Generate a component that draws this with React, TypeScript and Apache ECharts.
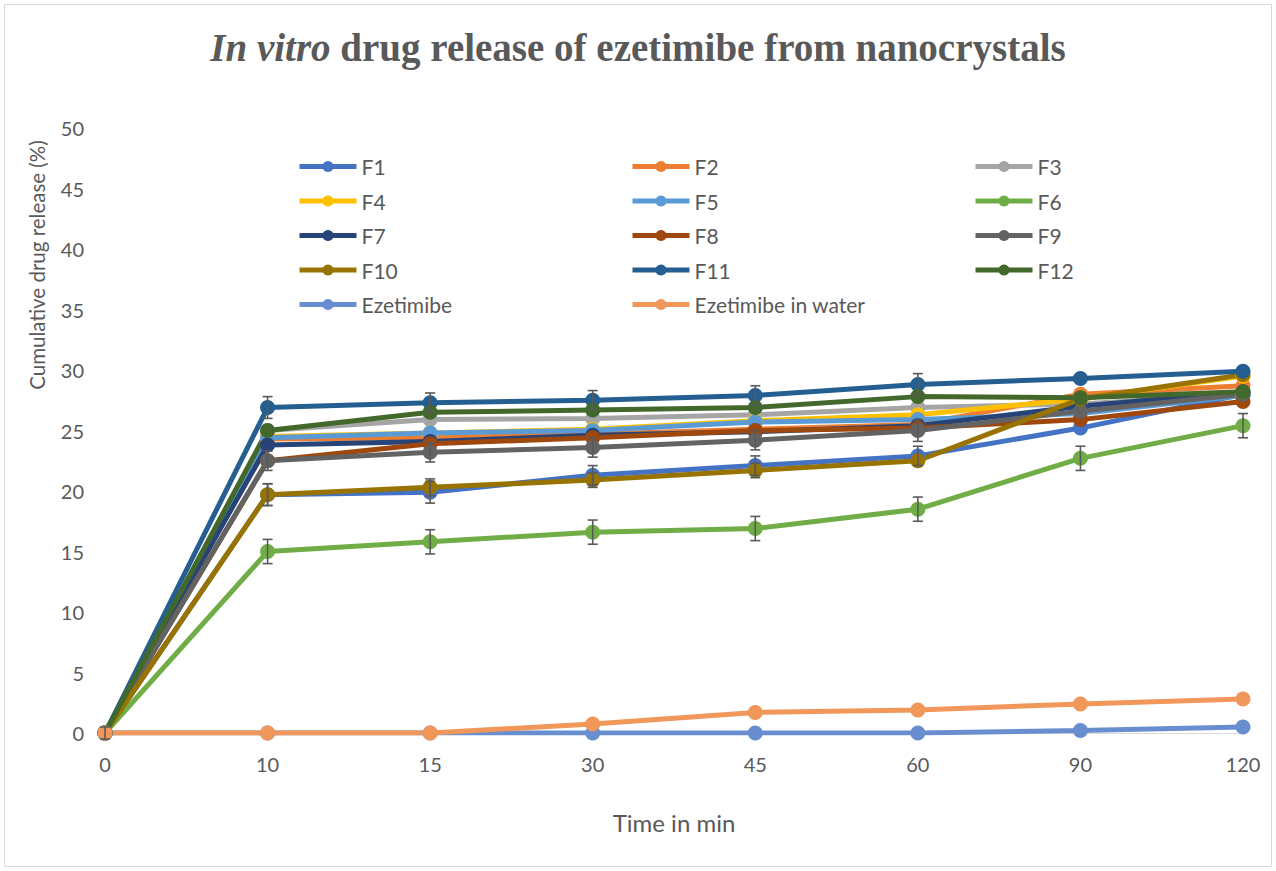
import React, { useEffect, useRef } from "react";
import * as echarts from "echarts";

const timeLabels = ["0", "10", "15", "30", "45", "60", "90", "120"];

const seriesNames = [
  "F1", "F2", "F3", "F4", "F5", "F6", "F7", "F8", "F9", "F10", "F11", "F12",
  "Ezetimibe", "Ezetimibe in water",
];

const seriesColors = [
  "#4472C4", "#ED7D31", "#A5A5A5", "#FFC000", "#5B9BD5", "#70AD47",
  "#264478", "#9E480E", "#636363", "#997300", "#255E91", "#43682B",
  "#698ED0", "#F1975A",
];

const F1 = [0, 19.7, 19.9, 21.3, 22.1, 22.9, 25.2, 28.0];
const F2 = [0, 24.3, 24.4, 24.7, 25.1, 25.5, 28.0, 28.7];
const F3 = [0, 25.0, 25.9, 26.0, 26.3, 26.9, 27.2, 28.0];
const F4 = [0, 24.5, 24.8, 25.1, 25.8, 26.3, 27.6, 29.5];
const F5 = [0, 24.4, 24.8, 25.0, 25.7, 25.9, 26.4, 27.9];
const F6 = [0, 15.0, 15.8, 16.6, 16.9, 18.5, 22.7, 25.4];
const F7 = [0, 23.8, 24.1, 24.6, 24.9, 25.4, 27.0, 28.2];
const F8 = [0, 22.5, 23.9, 24.4, 25.0, 25.2, 25.9, 27.4];
const F9 = [0, 22.5, 23.2, 23.6, 24.2, 25.0, 26.6, 28.0];
const F10 = [0, 19.7, 20.3, 20.9, 21.7, 22.5, 27.6, 29.6];
const F11 = [0, 26.9, 27.3, 27.5, 27.9, 28.8, 29.3, 29.9];
const F12 = [0, 25.0, 26.5, 26.7, 26.9, 27.8, 27.7, 28.2];
const Ezetimibe = [0, 0, 0, 0, 0, 0, 0.2, 0.5];
const EzetimibeWater = [0, 0, 0, 0.75, 1.7, 1.9, 2.4, 2.8];

const seriesValues = [F1, F2, F3, F4, F5, F6, F7, F8, F9, F10, F11, F12, Ezetimibe, EzetimibeWater];

// standard deviations (error bars) for the formulations that show them
const errF1 = [0.5, 0.9, 0.9, 0.8, 0.8, 0.8, 0, 0];
const errF6 = [0, 1.0, 1.0, 1.0, 1.0, 1.0, 1.0, 1.0];
const errF9 = [0, 0.8, 0.8, 0.8, 0.8, 0.9, 0, 0];
const errF11 = [0, 0.9, 0.8, 0.8, 0.8, 0.9, 0, 0];
const errF10 = [0, 0.9, 0.7, 0.6, 0.6, 0, 0, 0];

const errorSets: [number[], number[]][] = [
  [F1, errF1],
  [F10, errF10],
  [F9, errF9],
  [F6, errF6],
  [F11, errF11],
];

const legendCols = [
  ["F1", "F4", "F7", "F10", "Ezetimibe"],
  ["F2", "F5", "F8", "F11", "Ezetimibe in water"],
  ["F3", "F6", "F9", "F12"],
];

export default function App() {
  const ref = useRef<HTMLDivElement>(null);
  useEffect(() => {
    if (!ref.current) return;
    const chart = echarts.init(ref.current, undefined, { renderer: "svg" });
    const font = "Lato, 'Open Sans', sans-serif";
    const serif = "'Liberation Serif', 'Times New Roman', serif";
    const lineSeries = seriesNames.map((name, i) => ({
      name,
      type: "line",
      data: seriesValues[i],
      symbol: "circle",
      symbolSize: 15,
      color: seriesColors[i],
      lineStyle: { width: 5, color: seriesColors[i] },
      itemStyle: { color: seriesColors[i] },
      z: 2,
    }));
    const errorSeries = errorSets.map(([vals, errs], k) => ({
      name: "err" + k,
      type: "custom",
      z: 3,
      encode: { x: 0, y: [1, 2] },
      data: vals
        .map((v, i) => [i, v - errs[i], v + errs[i], errs[i]])
        .filter((d) => d[3] > 0),
      renderItem: (params: any, api: any) => {
        const lo = api.coord([api.value(0), api.value(1)]);
        const hi = api.coord([api.value(0), api.value(2)]);
        const hw = 5;
        const style = { stroke: "#595959", lineWidth: 1.6 };
        return {
          type: "group",
          children: [
            { type: "line", shape: { x1: lo[0], y1: lo[1], x2: hi[0], y2: hi[1] }, style },
            { type: "line", shape: { x1: lo[0] - hw, y1: lo[1], x2: lo[0] + hw, y2: lo[1] }, style },
            { type: "line", shape: { x1: hi[0] - hw, y1: hi[1], x2: hi[0] + hw, y2: hi[1] }, style },
          ],
        };
      },
    }));
    const legendLefts = [297, 630, 973];
    chart.setOption({
      animation: false,
      backgroundColor: "#ffffff",
      textStyle: { fontFamily: font },
      title: {
        left: "center",
        top: 23,
        text: "{i|In vitro}{b| drug release of ezetimibe from nanocrystals}",
        textStyle: {
          rich: {
            i: {
              fontFamily: serif,
              fontStyle: "italic",
              fontWeight: "bold",
              fontSize: 39,
              color: "#595959",
            },
            b: {
              fontFamily: serif,
              fontWeight: "bold",
              fontSize: 39,
              color: "#595959",
            },
          },
        },
      },
      legend: legendCols.map((col, c) => ({
        data: col,
        orient: "vertical",
        left: legendLefts[c],
        top: 156,
        padding: 0,
        itemWidth: 57,
        itemHeight: 14,
        itemGap: 13.5,
        lineStyle: { width: 5 },
        textStyle: { fontSize: 21, color: "#595959", fontFamily: font },
      })),
      grid: { left: 105, right: 33, top: 128, bottom: 138, containLabel: false },
      xAxis: {
        type: "category",
        data: timeLabels,
        boundaryGap: false,
        axisLine: { show: true, lineStyle: { color: "#d9d9d9", width: 1 } },
        axisTick: { show: false },
        axisLabel: { fontSize: 20, color: "#595959", margin: 21, fontFamily: font },
        name: "Time in min",
        nameLocation: "middle",
        nameGap: 77,
        nameTextStyle: { fontSize: 24, color: "#595959", fontFamily: font },
        splitLine: { show: false },
      },
      yAxis: {
        type: "value",
        min: 0,
        max: 50,
        interval: 5,
        axisLine: { show: false },
        axisTick: { show: false },
        splitLine: { show: false },
        axisLabel: { fontSize: 20, color: "#595959", margin: 21, fontFamily: font },
      },
      graphic: [
        {
          type: "rect",
          shape: { x: 4.5, y: 4.5, width: 1267, height: 862 },
          style: { fill: "none", stroke: "#d9d9d9", lineWidth: 1 },
          silent: true,
        },
        {
          type: "text",
          x: 37,
          y: 265,
          rotation: Math.PI / 2,
          style: {
            text: "Cumulative drug release (%)",
            fontSize: 20.5,
            fill: "#595959",
            fontFamily: font,
            align: "center",
            verticalAlign: "middle",
          },
        },
      ],
      series: [...lineSeries, ...errorSeries],
    });
    return () => chart.dispose();
  }, []);
  return (
    <div
      ref={ref}
      style={{ position: "absolute", left: 0, top: 0, width: 1276, height: 871 }}
    />
  );
}
